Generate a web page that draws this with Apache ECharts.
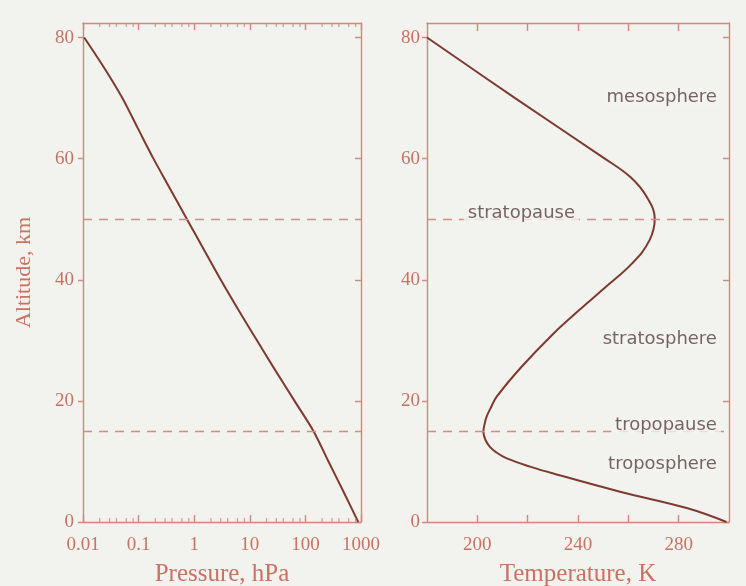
<!DOCTYPE html>
<html>
<head>
<meta charset="utf-8">
<script src="https://cdn.jsdelivr.net/npm/echarts@6/dist/echarts.min.js"></script>
<style>
html,body{margin:0;padding:0;background:#f2f2ef;}
#c{width:746px;height:586px;}
</style>
</head>
<body>
<div id="c"></div>
<script>
// ---- data ----
const pressureAlt = [0, 5, 10, 15, 20, 25, 30, 35, 40, 45, 50, 55, 60, 65, 70, 75, 80];
const pressure    = [893, 485, 260, 140, 63.7, 29.0, 13.4, 6.26, 3.0, 1.49, 0.74, 0.37, 0.185, 0.097, 0.051, 0.024, 0.0105];

const tempAlt     = [0, 2.3, 5, 8, 9.1, 10.5, 11.5, 12.4, 13.5, 14.9, 16, 17.4, 19, 20.7, 25.6, 31.1, 35, 38.8, 42.7, 46.5, 50.1, 53.7, 57, 60.2, 70, 80];
const temperature = [299, 283.2, 256.7, 230.2, 221.3, 211.7, 207.5, 205, 203.3, 202.4, 202.8, 203.7, 205.5, 207.7, 217.5, 230.2, 240.5, 251, 261.5, 268.4, 270.5, 267.3, 260.7, 249.9, 215, 180];

const altTickValues = [0, 20, 40, 60, 80];
const pressureTickLabels = ['0.01', '0.1', '1', '10', '100', '1000'];
const pressureMinorTicks = [0.02, 0.03, 0.04, 0.06, 0.08, 0.2, 0.3, 0.4, 0.6, 0.8, 2, 3, 4, 6, 8, 20, 30, 40, 60, 80, 200, 300, 400, 600, 800];
const tempTickValues = [200, 220, 240, 260, 280];
const tempLabelValues = [200, 240, 280];
const boundaryAlt = [15, 50]; // tropopause, stratopause

const layerNames = ['mesosphere', 'stratopause', 'stratosphere', 'tropopause', 'troposphere'];
const layerT     = [296.8, 217.5, 296.8, 296.8, 296.8];
const layerAlt   = [70.2, 51.0, 30.2, 15.9, 9.5];

// ---- styling ----
const BG = '#f2f2ef';
const FRAME = '#d4877c';
const LABEL = '#c97262';
const CURVE = '#7d3a2f';
const TEXT = '#573e3c';
const DASH = '#d48a86';
const ALT_MAX = 82.4;

const chart = echarts.init(document.getElementById('c'), null, {renderer: 'canvas'});

const serif = '"Liberation Serif", "DejaVu Serif", serif';
const frameLine = {show: true, onZero: false, lineStyle: {color: FRAME, width: 1.4}};

function yAxes(gridIndex, labelMargin, withName) {
  return [
    {
      gridIndex, type: 'value', position: 'left', min: 0, max: ALT_MAX, interval: 20,
      axisLine: frameLine,
      axisTick: {show: true, inside: false, length: 5, lineStyle: {color: FRAME, width: 1.4}, customValues: altTickValues},
      axisLabel: {color: LABEL, fontFamily: serif, fontSize: 19, margin: labelMargin,
        customValues: altTickValues,
        formatter: v => (v % 20 === 0 ? String(v) : '')},
      splitLine: {show: false},
      name: withName ? 'Altitude, km' : '',
      nameLocation: 'middle', nameGap: 48, nameRotate: 90,
      nameTextStyle: {color: LABEL, fontFamily: serif, fontSize: 22}
    },
    {
      gridIndex, type: 'value', position: 'right', min: 0, max: ALT_MAX, interval: 20,
      axisLine: frameLine,
      axisTick: {show: true, inside: true, length: 6, lineStyle: {color: FRAME, width: 1.4}, customValues: altTickValues},
      axisLabel: {show: false},
      splitLine: {show: false}
    }
  ];
}

const option = {
  backgroundColor: BG,
  animation: false,
  grid: [
    {left: 83, right: 385, top: 23, bottom: 64, containLabel: false, outerBoundsMode: 'none'},
    {left: 427, right: 17, top: 23, bottom: 64, containLabel: false, outerBoundsMode: 'none'}
  ],
  xAxis: [
    {
      gridIndex: 0, type: 'log', logBase: 10, min: 0.01, max: 1000, position: 'bottom',
      axisLine: frameLine,
      axisTick: {show: true, inside: true, length: 7, lineStyle: {color: FRAME, width: 1.4}},
      axisLabel: {color: LABEL, fontFamily: serif, fontSize: 19, margin: 14,
        formatter: v => pressureTickLabels[Math.round(Math.log10(v)) + 2] || ''},
      splitLine: {show: false},
      name: 'Pressure, hPa', nameLocation: 'middle', nameGap: 40,
      nameTextStyle: {color: LABEL, fontFamily: serif, fontSize: 25}
    },
    {
      gridIndex: 0, type: 'log', logBase: 10, min: 0.01, max: 1000, position: 'top',
      axisLine: frameLine,
      axisTick: {show: true, inside: true, length: 7, lineStyle: {color: FRAME, width: 1.4}},
      axisLabel: {show: false},
      splitLine: {show: false}
    },
    {
      gridIndex: 1, type: 'value', min: 180, max: 300, interval: 20, position: 'bottom',
      axisLine: frameLine,
      axisTick: {show: true, inside: true, length: 7, lineStyle: {color: FRAME, width: 1.4}, customValues: tempTickValues},
      axisLabel: {color: LABEL, fontFamily: serif, fontSize: 19, margin: 14,
        customValues: tempLabelValues,
        formatter: v => (tempLabelValues.indexOf(v) >= 0 ? String(v) : '')},
      splitLine: {show: false},
      name: 'Temperature, K', nameLocation: 'middle', nameGap: 40,
      nameTextStyle: {color: LABEL, fontFamily: serif, fontSize: 25}
    },
    {
      gridIndex: 1, type: 'value', min: 180, max: 300, interval: 20, position: 'top',
      axisLine: frameLine,
      axisTick: {show: true, inside: true, length: 8, lineStyle: {color: FRAME, width: 1.4}, customValues: tempTickValues},
      axisLabel: {show: false},
      splitLine: {show: false}
    }
  ],
  yAxis: [].concat(yAxes(0, 9, true), yAxes(1, 7, false)),
  series: [
    {
      type: 'line', xAxisIndex: 0, yAxisIndex: 0,
      data: pressure.map((p, i) => [p, pressureAlt[i]]),
      showSymbol: false, smooth: 0.3,
      lineStyle: {color: CURVE, width: 2},
      markLine: {
        silent: true, symbol: ['none', 'none'], label: {show: false},
        lineStyle: {color: DASH, type: [9, 7], width: 1.4},
        data: boundaryAlt.map(a => ({yAxis: a}))
      },
      z: 3
    },
    {
      type: 'scatter', xAxisIndex: 0, yAxisIndex: 0,
      data: pressureMinorTicks.map(p => [p, 0]),
      symbol: 'rect', symbolSize: [1.3, 4], symbolOffset: [0, -2],
      itemStyle: {color: FRAME}, silent: true, z: 4
    },
    {
      type: 'scatter', xAxisIndex: 0, yAxisIndex: 0,
      data: pressureMinorTicks.map(p => [p, ALT_MAX]),
      symbol: 'rect', symbolSize: [1.3, 4], symbolOffset: [0, 2],
      itemStyle: {color: FRAME}, silent: true, z: 4
    },
    {
      type: 'line', xAxisIndex: 2, yAxisIndex: 2,
      data: temperature.map((t, i) => [t, tempAlt[i]]),
      showSymbol: false, smooth: 0.4,
      lineStyle: {color: CURVE, width: 2},
      markLine: {
        silent: true, symbol: ['none', 'none'], label: {show: false},
        lineStyle: {color: DASH, type: [9, 7], width: 1.4},
        data: boundaryAlt.map(a => ({yAxis: a}))
      },
      z: 3
    },
    {
      type: 'scatter', xAxisIndex: 2, yAxisIndex: 2,
      data: layerNames.map((n, i) => ({
        name: n, value: [layerT[i], layerAlt[i]],
        label: {align: n === 'stratopause' ? 'center' : 'right'}
      })),
      symbolSize: 0, silent: true, z: 10,
      label: {
        show: true, position: [0, 0], verticalAlign: 'middle',
        formatter: p => p.name,
        color: TEXT, fontFamily: '"DejaVu Sans", Verdana, sans-serif', fontSize: 18,
        backgroundColor: BG, padding: [0, 4]
      }
    }
  ]
};
chart.setOption(option);
</script>
</body>
</html>
